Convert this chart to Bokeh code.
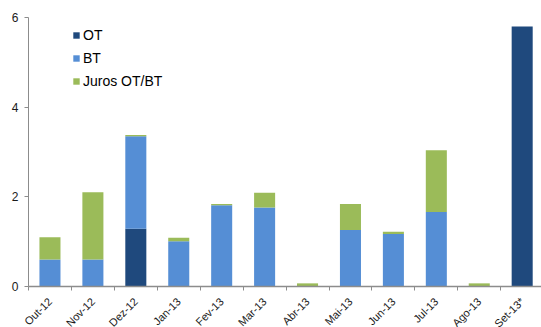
import numpy as np
from bokeh.plotting import figure
from bokeh.models import ColumnDataSource, Range1d, FixedTicker, Legend, LegendItem
from bokeh.embed import file_html
from bokeh.resources import INLINE

# Monthly debt flows, thousand million euros
months = ["Out-12", "Nov-12", "Dez-12", "Jan-13", "Fev-13", "Mar-13",
          "Abr-13", "Mai-13", "Jun-13", "Jul-13", "Ago-13", "Set-13*"]
ot = [0.0, 0.0, 1.29, 0.0, 0.0, 0.0, 0.0, 0.0, 0.0, 0.0, 0.0, 5.8]
bt = [0.6, 0.6, 2.06, 1.01, 1.81, 1.76, 0.0, 1.26, 1.17, 1.66, 0.0, 0.0]
juros = [0.5, 1.5, 0.03, 0.08, 0.03, 0.33, 0.07, 0.58, 0.05, 1.38, 0.07, 0.0]
series = ["OT", "BT", "Juros OT/BT"]
colors = ["#1F497D", "#558ED5", "#9BBB59"]
y_ticks = [0, 2, 4, 6]

FONT = "Liberation Sans"
AXIS_GREY = "#8C8C8C"
W, H = 541, 327

# The plot frame fills the whole canvas; both axes are pinned inside it.
# Horizontally the axis sits 28 px from the left, vertically zero sits 41 px
# above the bottom and the value 6 sits 17 px below the top.
X_LEFT, X_RIGHT = -0.5, len(months) - 0.55
px_x = (W - 28) / (X_RIGHT - X_LEFT)
Y_MAX = 6
px_y = (H - 41 - 17) / Y_MAX
x_range = Range1d(X_LEFT - 28 / px_x, X_RIGHT)
y_range = Range1d(-41 / px_y, Y_MAX + 17 / px_y)

x = list(range(len(months)))
source = ColumnDataSource(dict(x=x, OT=ot, BT=bt, Juros=juros))

p = figure(width=W, height=H, output_backend="svg", toolbar_location=None,
           x_range=x_range, y_range=y_range,
           min_border_left=0, min_border_right=0, min_border_top=0,
           min_border_bottom=0)
p.outline_line_color = None
p.grid.visible = False
p.background_fill_color = "white"
p.border_fill_color = "white"

renderers = p.vbar_stack(["OT", "BT", "Juros"], x="x", width=0.49, source=source,
                         color=colors, line_color=None)

# x axis pinned at zero: month names at bar centres, tick marks between months
xa = p.xaxis[0]
xa.fixed_location = 0
xa.bounds = (X_LEFT, X_RIGHT)
xa.ticker = FixedTicker(ticks=x, minor_ticks=[i + 0.5 for i in range(-1, len(months))])
xa.major_label_overrides = {i: m for i, m in enumerate(months)}
xa.major_label_orientation = np.pi / 4
xa.major_label_text_font = FONT
xa.major_label_text_font_size = "11px"
xa.major_label_text_color = "#1a1a1a"
xa.major_tick_out = 0
xa.major_tick_in = 0
xa.minor_tick_out = 4
xa.minor_tick_in = 0
xa.minor_tick_line_color = AXIS_GREY
xa.axis_line_color = AXIS_GREY
xa.axis_line_width = 1.5
xa.major_label_standoff = 9

# y axis pinned at the left edge of the first month
ya = p.yaxis[0]
ya.fixed_location = X_LEFT
ya.bounds = (0, Y_MAX)
ya.ticker = FixedTicker(ticks=y_ticks)
ya.minor_tick_line_color = None
ya.major_tick_out = 4
ya.major_tick_in = 0
ya.major_tick_line_color = AXIS_GREY
ya.axis_line_color = AXIS_GREY
ya.major_label_text_font = FONT
ya.major_label_text_font_size = "12px"
ya.major_label_text_color = "#1a1a1a"
ya.major_label_standoff = 6

legend = Legend(items=[LegendItem(label=s, renderers=[r]) for s, r in zip(series, renderers)],
                location=(72, 238), orientation="vertical",
                label_text_font=FONT, label_text_font_size="14px",
                label_text_color="#000000", glyph_width=8, glyph_height=8,
                label_height=16, label_standoff=3, spacing=7, padding=0, margin=0,
                border_line_color=None, background_fill_alpha=0)
p.add_layout(legend)

open("out.html", "w").write(file_html(p, INLINE))
